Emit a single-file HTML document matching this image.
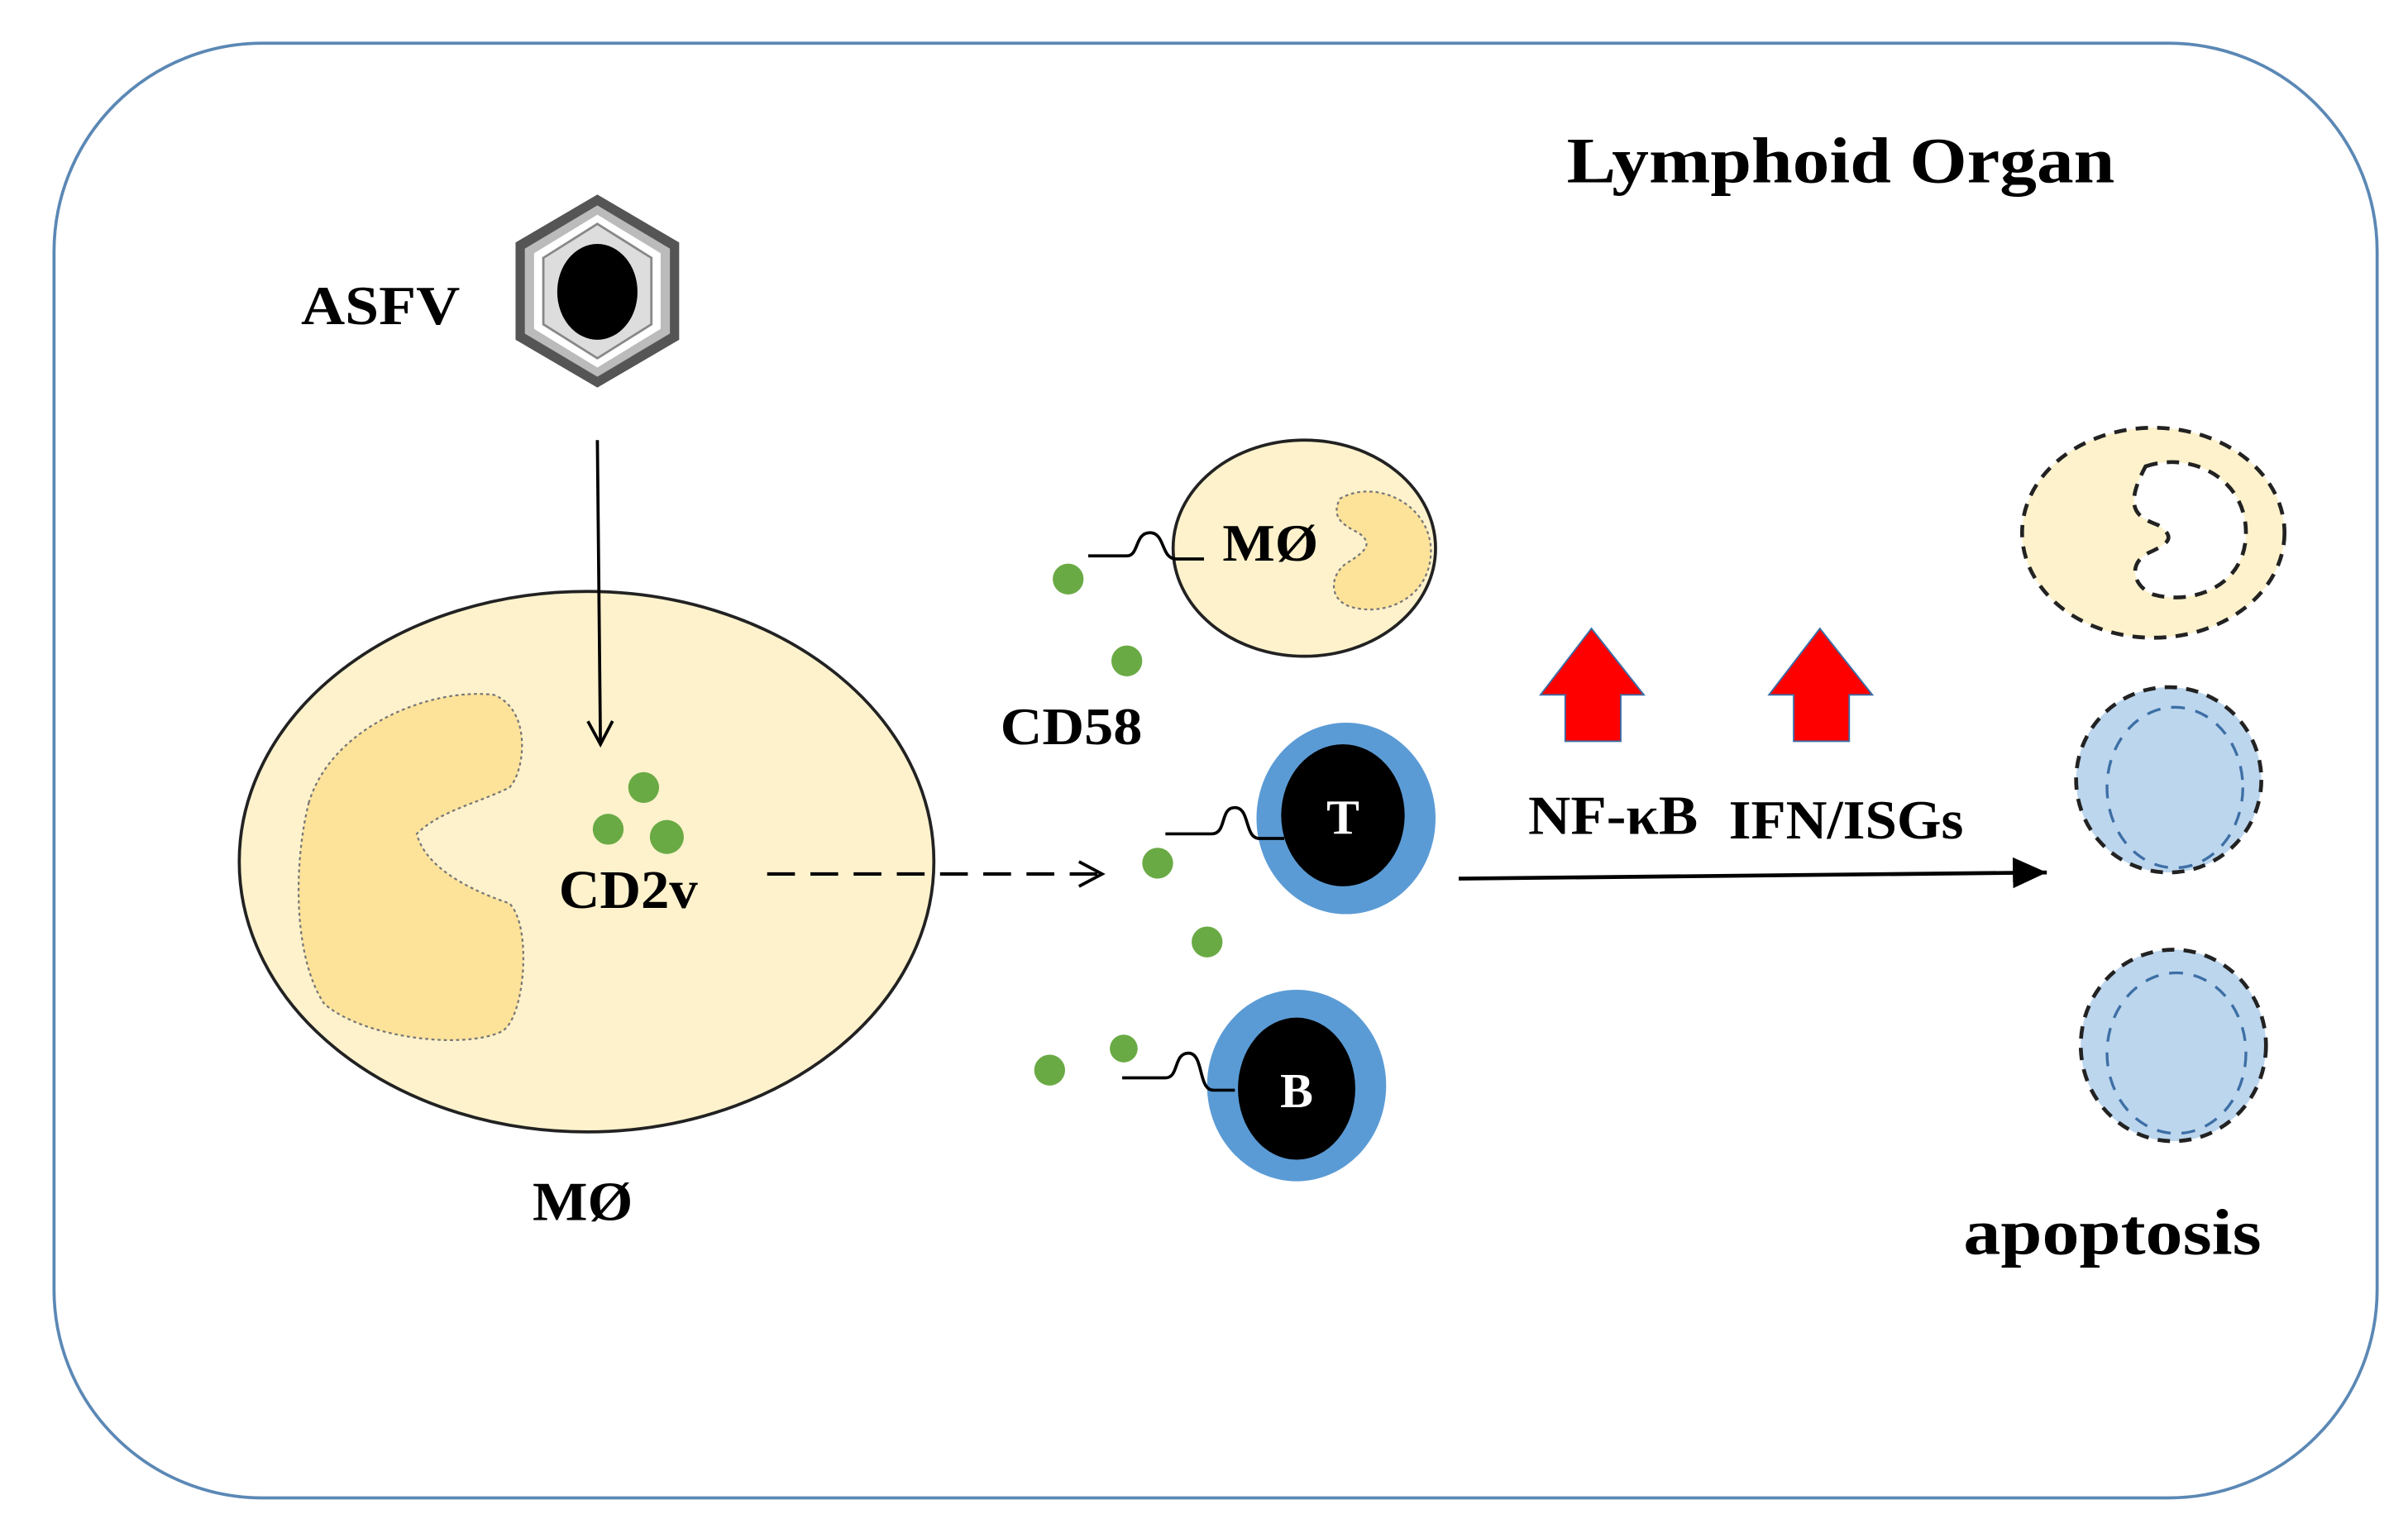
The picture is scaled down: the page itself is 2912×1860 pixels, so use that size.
<!DOCTYPE html>
<html><head><meta charset="utf-8"><style>
html,body{margin:0;padding:0;background:#fff;}
svg{display:block;}
text{font-family:"Liberation Serif",serif;font-weight:bold;fill:#000;}
</style></head><body>
<svg width="2912" height="1860" viewBox="0 0 1560 996" preserveAspectRatio="none" xmlns="http://www.w3.org/2000/svg">
<defs>
<marker id="open" markerWidth="20" markerHeight="20" refX="17" refY="10" orient="auto" markerUnits="userSpaceOnUse">
<path d="M2,2 L17,10 L2,18" fill="none" stroke="#000" stroke-width="2"/></marker>
<marker id="filled" markerWidth="24" markerHeight="24" refX="22" refY="12" orient="auto" markerUnits="userSpaceOnUse">
<path d="M0,2 L22,12 L0,22 Z" fill="#000"/></marker>
</defs>
<rect x="35" y="28" width="1505" height="942" rx="135" ry="135" fill="#fff" stroke="#5b88b5" stroke-width="2"/>

<text x="1015" y="118" font-size="42" textLength="355" lengthAdjust="spacingAndGlyphs">Lymphoid  Organ</text>
<text x="195" y="210" font-size="36" textLength="103" lengthAdjust="spacingAndGlyphs">ASFV</text>

<!-- virus -->
<polygon points="387,126 440,157 440,220 387,251 334,220 334,157" fill="#555"/>
<polygon points="387,133 434,161 434,216 387,244 340,216 340,161" fill="#bbb"/>
<polygon points="387,139 428,164 428,213 387,238 346,213 346,164" fill="#fff"/>
<polygon points="387,145 422,167 422,210 387,232 352,210 352,167" fill="#ddd" stroke="#888" stroke-width="1.5"/>
<ellipse cx="387" cy="189" rx="26" ry="31" fill="#000"/>

<!-- big macrophage -->
<ellipse cx="380" cy="558" rx="225" ry="175" fill="#fef2cc" stroke="#222" stroke-width="2"/>
<path d="M200,520 C215,470 280,445 320,450 C345,460 340,500 330,510 C310,520 285,525 270,540 C275,560 300,575 330,585 C345,600 340,660 325,668 C300,680 235,672 210,650 C190,620 190,560 200,520 Z" fill="#fde39a" stroke="#777" stroke-width="1.2" stroke-dasharray="2,2"/>
<line x1="387" y1="285" x2="389" y2="482" stroke="#000" stroke-width="2" marker-end="url(#open)"/>
<circle cx="417" cy="510" r="10" fill="#6aaa45"/>
<circle cx="394" cy="537" r="10" fill="#6aaa45"/>
<circle cx="432" cy="542" r="11" fill="#6aaa45"/>
<text x="362" y="588" font-size="35" textLength="90" lengthAdjust="spacingAndGlyphs">CD2v</text>
<text x="345" y="790" font-size="36" textLength="65" lengthAdjust="spacingAndGlyphs">MØ</text>

<line x1="497" y1="566" x2="714" y2="566" stroke="#000" stroke-width="2.2" stroke-dasharray="18,10" marker-end="url(#open)"/>

<!-- small macrophage -->
<ellipse cx="845" cy="355" rx="85" ry="70" fill="#fef2cc" stroke="#222" stroke-width="2"/>
<path d="M868,323 C890,310 925,325 927,355 C928,385 900,400 875,393 C860,388 862,372 872,365 C885,357 890,352 880,345 C870,340 862,335 868,323 Z" fill="#fde39a" stroke="#777" stroke-width="1.2" stroke-dasharray="2,2"/>
<text x="792" y="363" font-size="34" textLength="62" lengthAdjust="spacingAndGlyphs">MØ</text>
<path d="M705,360 L730,360 C738,360 735,345 745,345 C755,345 752,362 762,362 L780,362" fill="none" stroke="#000" stroke-width="2"/>

<!-- T cell -->
<ellipse cx="872" cy="530" rx="58" ry="62" fill="#5b9bd5"/>
<ellipse cx="870" cy="528" rx="40" ry="46" fill="#000"/>
<text x="870" y="540" font-size="32" text-anchor="middle" style="fill:#fff">T</text>
<path d="M755,540 L785,540 C795,540 790,523 800,523 C810,523 806,543 816,543 L832,543" fill="none" stroke="#000" stroke-width="2"/>

<!-- B cell -->
<ellipse cx="840" cy="703" rx="58" ry="62" fill="#5b9bd5"/>
<ellipse cx="840" cy="705" rx="38" ry="46" fill="#000"/>
<text x="840" y="717" font-size="32" text-anchor="middle" style="fill:#fff">B</text>
<path d="M727,698 L755,698 C764,698 760,682 770,682 C780,682 776,706 786,706 L800,706" fill="none" stroke="#000" stroke-width="2"/>

<!-- CD58 dots -->
<circle cx="692" cy="375" r="10" fill="#6aaa45"/>
<circle cx="730" cy="428" r="10" fill="#6aaa45"/>
<circle cx="750" cy="559" r="10" fill="#6aaa45"/>
<circle cx="782" cy="610" r="10" fill="#6aaa45"/>
<circle cx="680" cy="693" r="10" fill="#6aaa45"/>
<circle cx="728" cy="679" r="9" fill="#6aaa45"/>
<text x="648" y="482" font-size="34" textLength="92" lengthAdjust="spacingAndGlyphs">CD58</text>

<!-- red arrows -->
<polygon points="1031,407 1065,450 1050,450 1050,480 1014,480 1014,450 998,450" fill="#f00" stroke="#3a6ea5" stroke-width="1"/>
<polygon points="1179,407 1213,450 1198,450 1198,480 1162,480 1162,450 1146,450" fill="#f00" stroke="#3a6ea5" stroke-width="1"/>
<text x="990" y="540" font-size="36" textLength="110" lengthAdjust="spacingAndGlyphs">NF-κB</text>
<text x="1120" y="543" font-size="36" textLength="152" lengthAdjust="spacingAndGlyphs">IFN/ISGs</text>

<line x1="945" y1="569" x2="1326" y2="565" stroke="#000" stroke-width="2.5" marker-end="url(#filled)"/>

<!-- apoptotic cells -->
<ellipse cx="1395" cy="345" rx="85" ry="68" fill="#fef2cc" stroke="#222" stroke-width="2.5" stroke-dasharray="8,6"/>
<path d="M1390,302 C1420,292 1455,310 1455,345 C1455,380 1420,392 1395,385 C1382,380 1378,365 1392,358 C1405,352 1410,348 1398,340 C1385,335 1375,330 1390,302 Z" fill="#fff" stroke="#222" stroke-width="2.5" stroke-dasharray="8,6"/>
<ellipse cx="1405" cy="505" rx="60" ry="60" fill="#bcd6ee" stroke="#222" stroke-width="2.5" stroke-dasharray="8,6"/>
<ellipse cx="1409" cy="510" rx="44" ry="52" fill="none" stroke="#3d6fa5" stroke-width="1.8" stroke-dasharray="9,7"/>
<ellipse cx="1408" cy="677" rx="60" ry="62" fill="#bcd6ee" stroke="#222" stroke-width="2.5" stroke-dasharray="8,6"/>
<ellipse cx="1410" cy="682" rx="45" ry="52" fill="none" stroke="#3d6fa5" stroke-width="1.8" stroke-dasharray="9,7"/>
<text x="1272" y="812" font-size="42" textLength="193" lengthAdjust="spacingAndGlyphs">apoptosis</text>
</svg>
</body></html>
